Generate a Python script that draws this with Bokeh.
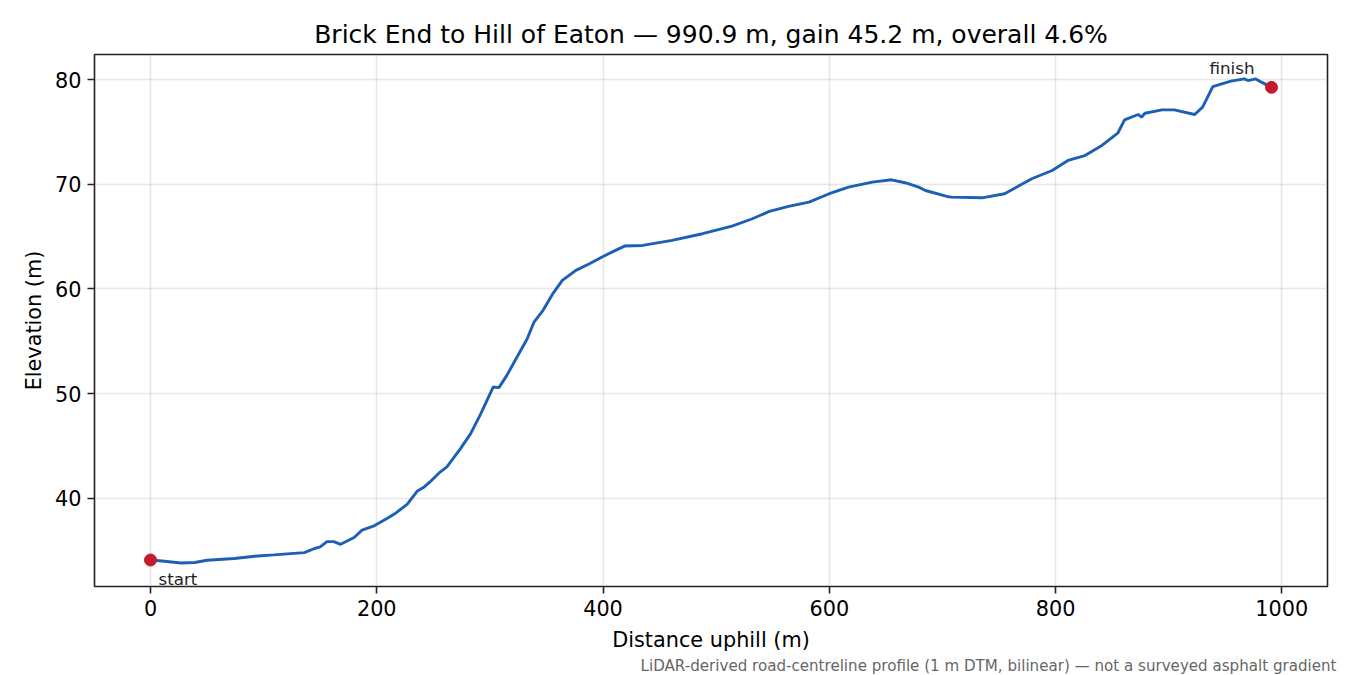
import bokeh.plotting as plotting
from bokeh.models import Range1d, FixedTicker, Title
from bokeh.core.properties import value
from bokeh.embed import file_html
from bokeh.resources import INLINE

# profile (distance uphill in m, elevation in m)
distance = [0, 10, 27, 39, 50, 74, 92, 109, 136, 145,
            150, 156, 162, 168, 180, 187, 197, 209, 217, 227,
            236, 242, 247, 256, 262, 274, 283, 292, 303, 308,
            315, 333, 339, 347, 356, 364, 376, 388, 400, 411, 419,
            435, 461, 488, 514, 532, 547, 564, 582, 600, 617,
            638, 655, 667, 679, 685, 704, 708, 735, 755, 779,
            797, 811, 826, 841, 855, 861, 873, 876, 879, 894,
            905, 923, 930, 939, 955, 967, 970, 977, 982, 990.9]
elevation = [34.1, 34.0, 33.82, 33.86, 34.08, 34.24, 34.46, 34.59, 34.81, 35.2,
             35.35, 35.86, 35.86, 35.6, 36.25, 36.95, 37.33, 38.06, 38.6, 39.43,
             40.7, 41.08, 41.56, 42.5, 42.99, 44.74, 46.17, 48.09, 50.63, 50.57,
             51.74, 55.24, 56.83, 57.95, 59.6, 60.81, 61.77, 62.4, 63.1, 63.68, 64.09,
             64.15, 64.63, 65.27, 66.0, 66.7, 67.4, 67.88, 68.29, 69.09, 69.72,
             70.2, 70.42, 70.14, 69.72, 69.4, 68.83, 68.77, 68.7, 69.09, 70.52,
             71.31, 72.27, 72.74, 73.7, 74.87, 76.15, 76.66, 76.4, 76.78, 77.1,
             77.1, 76.66, 77.36, 79.33, 79.84, 80.06, 79.9, 80.06, 79.75, 79.25]

x_ticks = [0, 200, 400, 600, 800, 1000]
y_ticks = [40, 50, 60, 70, 80]

title = "Brick End to Hill of Eaton \u2014 990.9 m, gain 45.2 m, overall 4.6%"
note = "LiDAR-derived road-centreline profile (1 m DTM, bilinear) \u2014 not a surveyed asphalt gradient"

FONT = "DejaVu Sans"
LINE = "#1c5fb4"
DOT = "#c21d2e"

p = plotting.figure(width=1350, height=675, output_backend="svg", toolbar_location=None,
                    x_range=Range1d(-49.5, 1040.4), y_range=Range1d(31.57, 82.39),
                    min_border_left=94, min_border_right=23, min_border_top=54,
                    min_border_bottom=89)

p.title.text = title
p.title.align = "center"
p.title.text_font = FONT
p.title.text_font_size = "25px"
p.title.text_font_style = "normal"
p.title.text_color = "black"
p.title.standoff = 11

p.line(distance, elevation, line_color=LINE, line_width=2.9)
p.scatter([distance[0], distance[-1]], [elevation[0], elevation[-1]],
          size=12, fill_color=DOT, line_color=DOT)

p.text([distance[0]], [elevation[0]], text=["start"], x_offset=8, y_offset=19,
       text_font=value(FONT), text_font_size="16.7px", text_color="#222222",
       text_baseline="alphabetic", text_align="left")
p.text([distance[-1]], [elevation[-1]], text=["finish"], x_offset=-17, y_offset=-19,
       text_font=value(FONT), text_font_size="16.7px", text_color="#222222",
       text_baseline="alphabetic", text_align="right")

p.outline_line_color = "#222222"
p.outline_line_width = 1.6
p.background_fill_color = "white"
p.border_fill_color = "white"

p.xaxis.ticker = FixedTicker(ticks=x_ticks)
p.yaxis.ticker = FixedTicker(ticks=y_ticks)
p.xaxis.axis_label = "Distance uphill (m)"
p.yaxis.axis_label = "Elevation (m)"
for ax in (p.xaxis, p.yaxis):
    ax.axis_line_color = None
    ax.major_tick_line_color = "#222222"
    ax.major_tick_line_width = 1.6
    ax.major_tick_out = 7
    ax.major_tick_in = 0
    ax.minor_tick_line_color = None
    ax.major_label_text_font = FONT
    ax.major_label_text_font_size = "20.8px"
    ax.major_label_text_color = "black"
    ax.major_label_standoff = 6
    ax.axis_label_text_font = FONT
    ax.axis_label_text_font_size = "20.8px"
    ax.axis_label_text_font_style = "normal"
    ax.axis_label_text_color = "black"
p.xaxis.axis_label_standoff = 9
p.yaxis.axis_label_standoff = 6

p.grid.grid_line_color = "#b0b0b0"
p.grid.grid_line_alpha = 0.3
p.grid.grid_line_width = 1.5

p.add_layout(Title(text=note, align="right", text_font=FONT, text_font_size="15.1px",
                   text_font_style="normal", text_color="#666666", standoff=0,
                   offset=-9), "below")

open("out.html", "w").write(file_html(p, INLINE))
